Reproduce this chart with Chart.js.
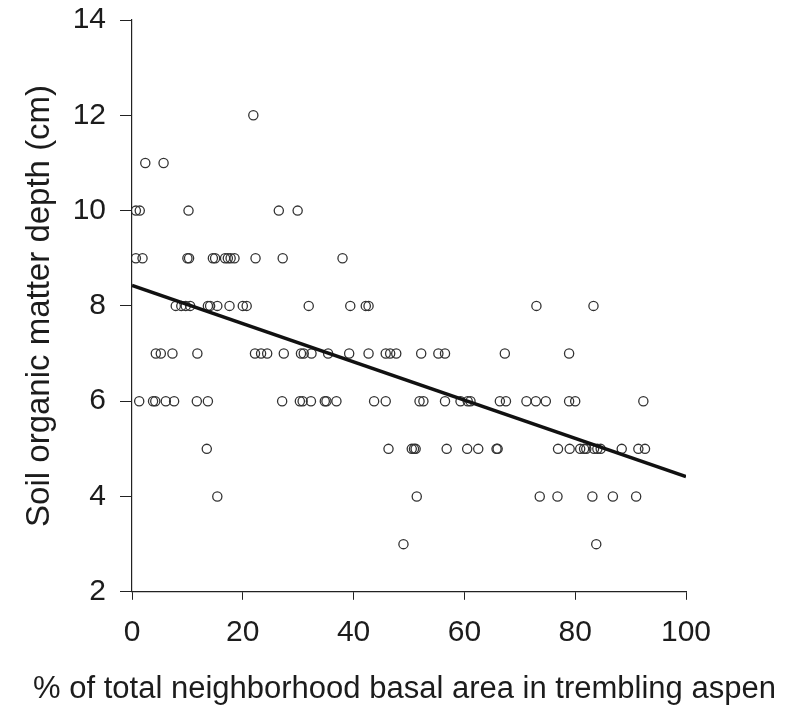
<!DOCTYPE html>
<html lang="en">
<head>
  <meta charset="UTF-8" />
  <title>Soil organic matter depth vs. aspen basal area</title>
  <script src="https://cdn.jsdelivr.net/npm/chart.js"></script>
  <style>
    body { margin: 0; background: #fff; }
    canvas { display: block; }
  </style>
</head>
<body>
  <canvas id="grafico" width="789" height="711"></canvas>

  <script>
    // % of neighbourhood basal area in trembling aspen, grouped by measured depth (cm)
    const depth12 = [21.9];
    const depth11 = [2.4, 5.7];
    const depth10 = [0.7, 1.4, 10.2, 26.5, 29.9];
    const depth9 = [0.7, 1.9, 10.0, 10.3, 14.6, 15.0, 16.8, 17.3, 17.8, 18.5, 22.3, 27.2, 38.0];
    const depth8 = [7.9, 8.9, 9.7, 10.5, 13.7, 14.1, 15.4, 17.6, 20.0, 20.7, 31.9, 39.4, 42.2, 42.7, 73.0, 83.3];
    const depth7 = [4.3, 5.2, 7.3, 11.8, 22.2, 23.3, 24.4, 27.4, 30.5, 31.0, 32.4, 35.4, 39.2, 42.7,
                    45.8, 46.6, 47.7, 52.2, 55.3, 56.5, 67.3, 78.9];
    const depth6 = [1.3, 3.8, 4.2, 6.1, 7.6, 11.7, 13.7, 27.1, 30.3, 30.8, 32.3, 34.8, 35.1, 36.9,
                    43.7, 45.8, 51.9, 52.6, 56.5, 59.3, 60.6, 61.1, 66.4, 67.5, 71.2, 72.9, 74.7,
                    78.9, 80.0, 92.3];
    const depth5 = [13.5, 46.3, 50.5, 50.9, 51.2, 56.8, 60.5, 62.5, 65.8, 66.0, 76.9, 79.0, 80.9,
                    81.6, 82.0, 83.4, 84.0, 84.6, 88.4, 91.4, 92.6];
    const depth4 = [15.4, 51.4, 73.6, 76.8, 83.1, 86.8, 91.0];
    const depth3 = [49.0, 83.8];

    // regression line end points
    const fitX = [0, 100];
    const fitY = [8.43, 4.42];

    const grupos = [
      [12, depth12], [11, depth11], [10, depth10], [9, depth9], [8, depth8],
      [7, depth7], [6, depth6], [5, depth5], [4, depth4], [3, depth3]
    ];
    const pontos = [];
    grupos.forEach(([prof, xs]) => xs.forEach(x => pontos.push({ x, y: prof })));

    const fonte = "Arial, 'Liberation Sans', sans-serif";
    const corTexto = '#1c1c1c';
    const corEixo = '#222';

    new Chart(document.getElementById('grafico'), {
      type: 'scatter',
      data: {
        datasets: [
          {
            type: 'line',
            data: fitX.map((x, i) => ({ x, y: fitY[i] })),
            borderColor: '#111',
            borderWidth: 3.5,
            pointRadius: 0,
            order: 0
          },
          {
            data: pontos,
            pointStyle: 'circle',
            pointRadius: 4.6,
            borderWidth: 1.3,
            borderColor: '#333',
            backgroundColor: 'rgba(0,0,0,0)',
            order: 1
          }
        ]
      },
      options: {
        responsive: false,
        devicePixelRatio: 1,
        animation: false,
        layout: { padding: { left: 20, right: 0, top: 20, bottom: 0 } },
        plugins: {
          legend: { display: false },
          tooltip: { enabled: false },
          // x-axis caption as a full-width title so it is not squeezed to the plot width
          title: {
            display: true,
            position: 'bottom',
            text: '% of total neighborhood basal area in trembling aspen',
            color: corTexto,
            font: { family: fonte, size: 31, weight: 'normal' },
            padding: { top: 0, bottom: 3 }
          }
        },
        scales: {
          x: {
            type: 'linear', min: 0, max: 100,
            ticks: { stepSize: 20, padding: 15, color: corTexto, font: { family: fonte, size: 30 } },
            grid: { drawOnChartArea: false, tickLength: 8, color: corEixo, lineWidth: 1 },
            border: { color: corEixo, width: 1.2 },
            afterFit: s => { s.height = 79; }
          },
          y: {
            type: 'linear', min: 2, max: 14,
            ticks: { stepSize: 2, padding: 14, color: corTexto, font: { family: fonte, size: 30 } },
            grid: { drawOnChartArea: false, tickLength: 12, color: corEixo, lineWidth: 1 },
            border: { color: corEixo, width: 1.2 },
            title: {
              display: true,
              text: 'Soil organic matter depth (cm)',
              color: corTexto,
              font: { family: fonte, size: 33 },
              padding: { top: 0, bottom: 0 }
            },
            afterFit: s => { s.width = 112; s.paddingTop = 0; s.paddingBottom = 0; }
          },
          // empty right-hand strip, keeps the plot clear of the right edge
          margemDireita: {
            type: 'linear', position: 'right', display: true,
            ticks: { display: false },
            grid: { display: false },
            border: { display: false },
            afterFit: s => { s.width = 103; }
          }
        }
      }
    });
  </script>
</body>
</html>
